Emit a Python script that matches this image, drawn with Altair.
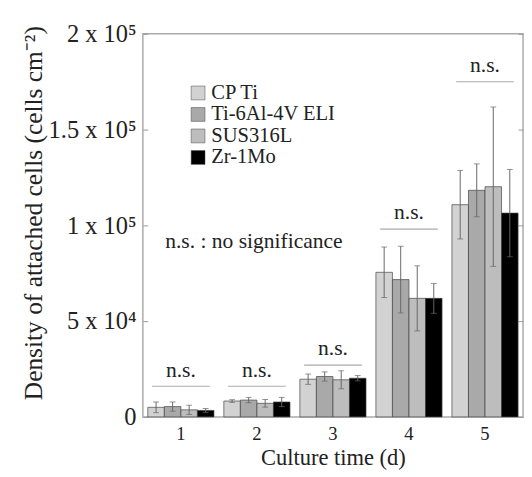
import altair as alt
import pandas as pd

days = ["1", "2", "3", "4", "5"]
materials = ["CP Ti", "Ti-6Al-4V ELI", "SUS316L", "Zr-1Mo"]
cp_ti = [5000, 8300, 19700, 75500, 110800]
cp_ti_err = [2800, 700, 2700, 13200, 17900]
ti64 = [5400, 8800, 21100, 71700, 118300]
ti64_err = [2400, 1400, 2400, 17400, 13800]
sus = [3700, 7100, 19400, 61900, 120200]
sus_err = [2400, 2000, 4700, 17000, 41600]
zr = [3400, 7800, 20200, 61900, 106400]
zr_err = [1000, 2400, 1400, 7800, 22800]
ns_level = [16000, 16000, 27000, 98000, 175000]
ns_text = ["n.s.", "n.s.", "n.s.", "n.s.", "n.s."]
ytick_values = [0, 50000, 100000, 150000, 200000]
ytick_labels = ["0", "5 x 10⁴", "1 x 10⁵", "1.5 x 10⁵", "2 x 10⁵"]
fills = ["#d2d2d2", "#a9a9a9", "#bdbdbd", "#000000"]

FONT = "Liberation Serif"

rows = []
for m, vals, errs in zip(materials, [cp_ti, ti64, sus, zr], [cp_ti_err, ti64_err, sus_err, zr_err]):
    for d, v, e in zip(days, vals, errs):
        rows.append({"day": d, "material": m, "value": v, "lo": v - e, "hi": v + e})
df = pd.DataFrame(rows)
ns_df = pd.DataFrame({"day": days, "level": ns_level, "label": ns_text})
note_df = pd.DataFrame({"day": ["1"], "y": [92000], "label": ["n.s. : no significance"]})

label_expr = "'" + ytick_labels[-1] + "'"
for v, l in reversed(list(zip(ytick_values[:-1], ytick_labels[:-1]))):
    label_expr = f"datum.value == {v} ? '{l}' : " + label_expr

yscale = alt.Scale(domain=[0, 200000], nice=False)
xscale = alt.Scale(paddingInner=0.13, paddingOuter=0.065)
xoff = alt.XOffset("material:N", sort=materials, scale=alt.Scale(paddingInner=0, paddingOuter=0))

x_enc = alt.X("day:N", sort=days, scale=xscale,
              axis=alt.Axis(title="Culture time (d)", labelAngle=0, ticks=False, domain=False,
                            labelPadding=8, labelFontSize=19, titleFontSize=23,
                            titleFontWeight="normal", labelFont=FONT, titleFont=FONT,
                            labelColor="#222", titleColor="#222", titlePadding=4))

left_axis = alt.Axis(title="Density of attached cells (cells cm⁻²)", values=ytick_values,
                     labelExpr=label_expr, offset=-5, tickSize=5, tickColor="#999",
                     domain=False, grid=False, labelPadding=7, labelFontSize=25,
                     titleFontSize=26, titleFontWeight="normal", labelFont=FONT,
                     titleFont=FONT, labelColor="#222", titleColor="#222", titlePadding=2,
                     titleY=183)

bars = alt.Chart(df).mark_bar(stroke="#444", strokeWidth=0.7).encode(
    x=x_enc,
    xOffset=xoff,
    y=alt.Y("value:Q", scale=yscale, axis=left_axis),
    color=alt.Color("material:N", sort=materials,
                    scale=alt.Scale(domain=materials, range=fills),
                    legend=alt.Legend(title=None, orient="none", legendX=46, legendY=50,
                                      symbolType="square", symbolSize=200,
                                      symbolStrokeColor="#444", symbolStrokeWidth=0.5,
                                      labelFont=FONT, labelFontSize=21, labelColor="#222",
                                      rowPadding=0, labelOffset=3)),
)

err = alt.Chart(df).mark_rule(color="#666", strokeWidth=1).encode(
    x=alt.X("day:N", sort=days, scale=xscale),
    xOffset=xoff,
    y=alt.Y("lo:Q", scale=yscale),
    y2="hi:Q",
)
cap_hi = alt.Chart(df).mark_tick(color="#666", thickness=1, size=6).encode(
    x=alt.X("day:N", sort=days, scale=xscale), xOffset=xoff,
    y=alt.Y("hi:Q", scale=yscale),
)
cap_lo = alt.Chart(df).mark_tick(color="#666", thickness=1, size=6).encode(
    x=alt.X("day:N", sort=days, scale=xscale), xOffset=xoff,
    y=alt.Y("lo:Q", scale=yscale),
)

ns_line = alt.Chart(ns_df).mark_tick(color="#888", thickness=1.2, size=59).encode(
    x=alt.X("day:N", sort=days, scale=xscale),
    y=alt.Y("level:Q", scale=yscale),
)
ns_lab = alt.Chart(ns_df).mark_text(font=FONT, fontSize=22, baseline="bottom", dy=-5, color="#222").encode(
    x=alt.X("day:N", sort=days, scale=xscale),
    y=alt.Y("level:Q", scale=yscale),
    text="label:N",
)
note = alt.Chart(note_df).mark_text(font=FONT, fontSize=22, align="left", baseline="middle", dx=-16, color="#222").encode(
    x=alt.X("day:N", sort=days, scale=xscale),
    y=alt.Y("y:Q", scale=yscale),
    text="label:N",
)

main = alt.layer(bars, err, cap_hi, cap_lo, ns_line, ns_lab, note)

right = alt.Chart(ns_df).mark_point(opacity=0).encode(
    x=alt.X("day:N", sort=days, scale=xscale),
    y=alt.Y("level:Q", scale=yscale,
            axis=alt.Axis(orient="right", values=ytick_values, labels=False, title=None,
                          offset=-5, tickSize=5, tickColor="#999", domain=False, grid=False)),
)

chart = alt.layer(main, right).resolve_scale(y="independent").properties(
    width=389, height=392, padding={"left": 13, "top": 9, "right": 0, "bottom": 0}
).configure(font=FONT).configure_text(font=FONT).configure_axis(
    labelFont=FONT, titleFont=FONT
).configure_legend(labelFont=FONT).configure_view(stroke="#aaa", strokeWidth=1.5)

chart.save("out.html", embed_options={"renderer": "svg", "actions": False})
